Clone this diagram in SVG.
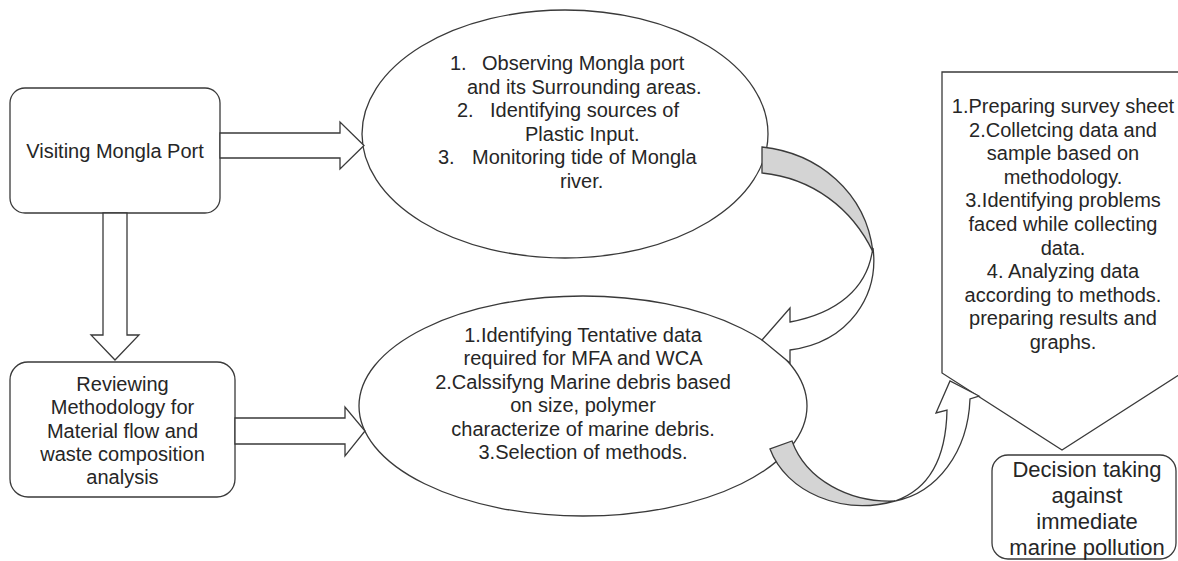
<svg xmlns="http://www.w3.org/2000/svg" width="1178" height="561" viewBox="0 0 1178 561">
<style>
.shape{fill:#fff;stroke:#3a3a3a;stroke-width:1.3}
.band{fill:#d4d4d4;stroke:#3a3a3a;stroke-width:1.3}
text{font-family:"Liberation Sans",Arial,sans-serif;font-size:20px;fill:#262626}
.c{text-anchor:middle}
.big{font-size:22px}
</style>
<rect width="1178" height="561" fill="#fff"/>
<g id="node-visiting">
<rect class="shape" x="10" y="88" width="210" height="125" rx="15"/>
<text class="c" x="115" y="158">Visiting Mongla Port</text>
</g>
<g id="node-reviewing">
<rect class="shape" x="10" y="362" width="225" height="135" rx="18"/>
<text class="c" x="122.5" y="391">Reviewing</text>
<text class="c" x="122.5" y="414">Methodology for</text>
<text class="c" x="122.5" y="437.5">Material flow and</text>
<text class="c" x="122.5" y="460.5">waste composition</text>
<text class="c" x="122.5" y="483.5">analysis</text>
</g>
<g id="node-observing">
<ellipse class="shape" cx="565" cy="134" rx="203" ry="124"/>
<text x="450" y="70">1.</text><text x="482" y="70">Observing Mongla port</text>
<text x="467" y="93.5">and its Surrounding areas.</text>
<text x="457" y="117">2.</text><text x="490" y="117">Identifying sources of</text>
<text x="525" y="140.5">Plastic Input.</text>
<text x="438" y="164">3.</text><text x="472" y="164">Monitoring tide of Mongla</text>
<text x="560" y="188">river.</text>
</g>
<g id="node-identifying">
<ellipse class="shape" cx="583" cy="406" rx="224" ry="110"/>
<text class="c" x="583" y="342">1.Identifying Tentative data</text>
<text class="c" x="583" y="365">required for MFA and WCA</text>
<text class="c" x="583" y="388.5">2.Calssifyng Marine debris based</text>
<text class="c" x="583" y="412">on size, polymer</text>
<text class="c" x="583" y="435.5">characterize of marine debris.</text>
<text class="c" x="583" y="459">3.Selection of methods.</text>
</g>
<g id="node-survey">
<polygon class="shape" points="942,72 1182,72 1182,373 1062,450 942,373"/>
<text class="c" x="1063" y="113">1.Preparing survey sheet</text>
<text class="c" x="1063" y="136.6">2.Colletcing data and</text>
<text class="c" x="1063" y="160.2">sample based on</text>
<text class="c" x="1063" y="183.8">methodology.</text>
<text class="c" x="1063" y="207.4">3.Identifying problems</text>
<text class="c" x="1063" y="231">faced while collecting</text>
<text class="c" x="1063" y="254.6">data.</text>
<text class="c" x="1063" y="278.2">4. Analyzing data</text>
<text class="c" x="1063" y="301.8">according to methods.</text>
<text class="c" x="1063" y="325.4">preparing results and</text>
<text class="c" x="1063" y="349">graphs.</text>
</g>
<g id="node-decision">
<rect class="shape" x="992" y="455" width="184" height="104" rx="16"/>
<text class="c big" x="1087" y="477">Decision taking</text>
<text class="c big" x="1087" y="503">against</text>
<text class="c big" x="1087" y="529">immediate</text>
<text class="c big" x="1087" y="555">marine pollution</text>
</g>
<g id="connectors">
<path class="shape" d="M220,133 L340,133 L340,122 L364,145.5 L340,169 L340,158 L220,158 Z"/>
<path class="shape" d="M103,213 L103,335 L91,335 L115,360 L139,335 L127,335 L127,213 Z"/>
<path class="shape" d="M235,418 L345,418 L345,407 L365,431 L345,456 L345,444 L235,444 Z"/>
<path class="shape" d="M873,248 C879,295 850,342 790,350 L790,363 L762,340 L790,308 L790,322 C838,313 866,288 872,253 Z"/>
<path class="band" d="M762,147 C818,153 866,192 873,252 C852,208 812,178 762,173 Z"/>
<path class="shape" d="M895,501 C937,493 968,452 970,399 L979,396 L950,381 L936,413 L947,410 C946,462 927,490 895,501 Z"/>
<path class="band" d="M770,449 C786,492 842,516 895,501 C850,503 806,480 792,441 Z"/>
</g>
</svg>
